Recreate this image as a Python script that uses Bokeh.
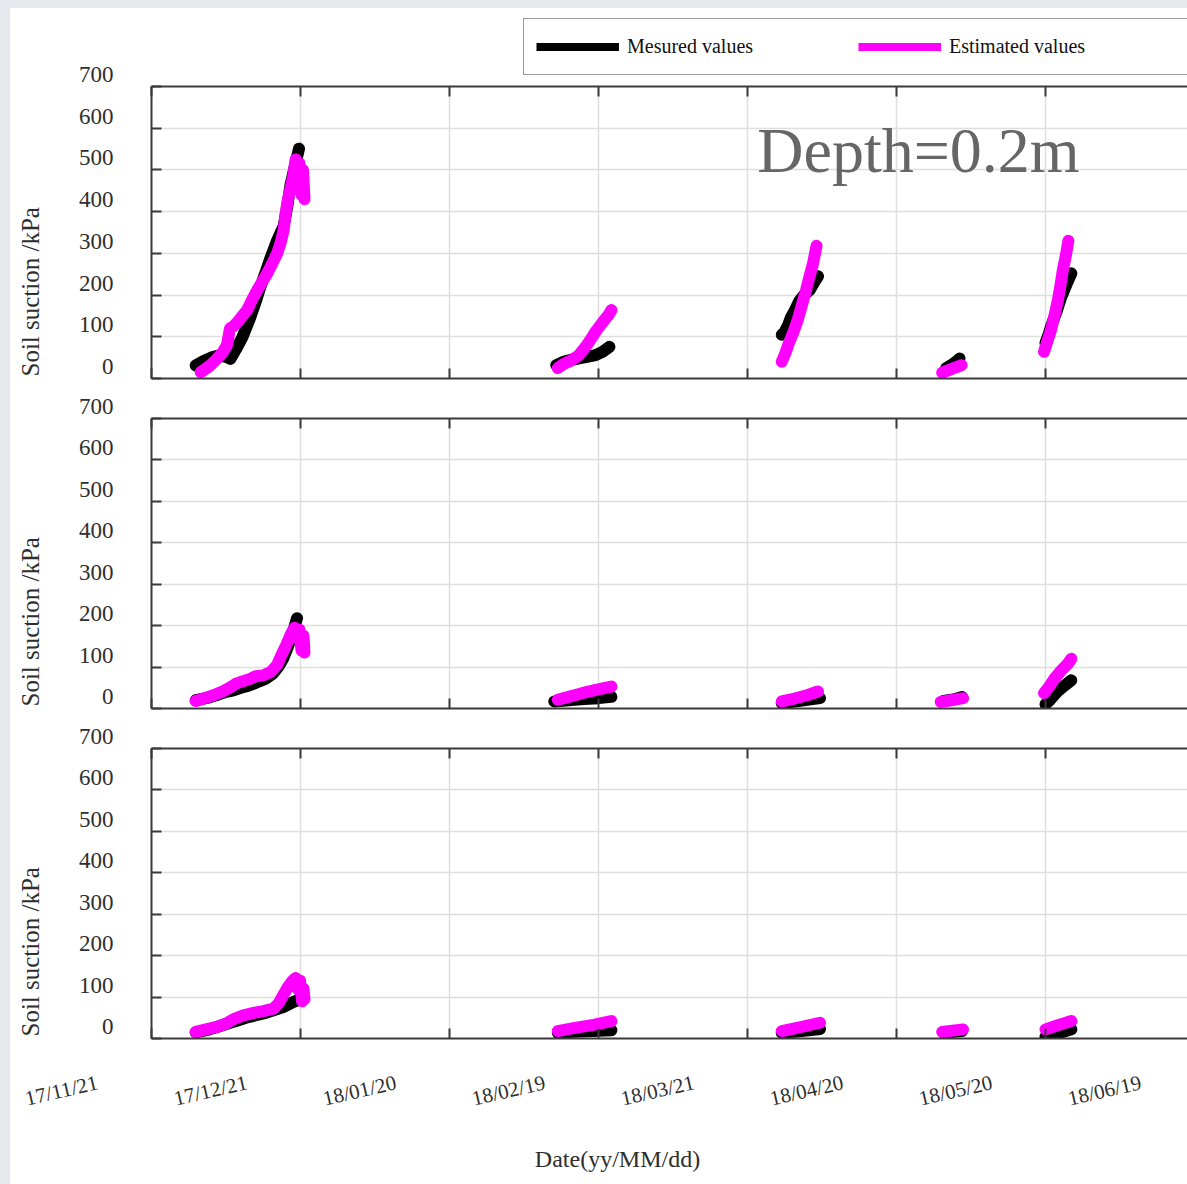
import datetime as dt
import math
from bokeh.plotting import figure
from bokeh.models import (FixedTicker, LinearAxis, Range1d, Label, Legend,
                          LegendItem, Spacer)
from bokeh.layouts import column, row
from bokeh.core.properties import value
from bokeh.embed import file_html
from bokeh.resources import INLINE

# ---------------- data ----------------
START = dt.datetime(2017, 11, 21, tzinfo=dt.timezone.utc)
x_tick_days = [0, 30, 60, 90, 120, 150, 180, 210]
x_tick_labels = ["17/11/21", "17/12/21", "18/01/20", "18/02/19",
                 "18/03/21", "18/04/20", "18/05/20", "18/06/19"]
y_tick_values = [0, 100, 200, 300, 400, 500, 600, 700]
y_tick_labels = ["0", "100", "200", "300", "400", "500", "600", "700"]

# depth 0.2 m (top panel) -- days since 17/11/21, soil suction kPa
p1_meas_days = [[8.9, 10.5, 12.0, 13.5, 15.0, 15.9, 17.0, 18.3, 19.9, 21.0, 21.9, 23.0, 24.0, 25.3, 26.6, 27.3, 28.0, 28.9, 29.7],
                [81.5, 83.0, 84.5, 86.0, 87.7, 89.4, 90.8, 92.2],
                [126.9, 127.5, 128.2, 128.7, 129.4, 130.4, 131.4, 132.5, 133.3, 134.2],
                [160.0, 161.0, 162.0, 162.7],
                [180.0, 180.6, 181.1, 182.2, 183.2, 184.2, 185.2]]
p1_meas_kpa = [[31, 42, 50, 55, 52, 47, 70, 99, 147, 185, 219, 255, 290, 331, 365, 410, 465, 510, 551],
               [32, 40, 45, 48, 52, 56, 64, 76],
               [105, 112, 128, 145, 160, 185, 200, 212, 228, 245],
               [25, 32, 40, 48],
               [85, 105, 124, 160, 196, 225, 252]]
p1_est_days = [[9.9, 11.5, 13.0, 14.3, 15.2, 15.8, 16.5, 17.3, 18.3, 19.3, 20.3, 21.3, 22.3, 23.3, 24.3, 25.3, 26.0, 26.6, 27.0, 27.4, 28.0, 28.6, 29.0, 29.4, 29.8, 30.2, 30.5, 30.8],
               [81.8, 83.0, 84.5, 86.0, 87.4, 88.5, 89.4, 90.4, 91.2, 92.0, 92.6],
               [126.9, 127.6, 128.3, 129.2, 130.1, 131.0, 131.8, 132.5, 133.2, 133.6, 133.9],
               [159.2, 160.5, 161.8, 163.1],
               [179.7, 180.4, 181.1, 181.8, 182.5, 183.0, 183.5, 184.1, 184.6]]
p1_est_kpa = [[15, 28, 45, 62, 80, 120, 125, 135, 150, 165, 190, 212, 232, 252, 275, 300, 325, 355, 395, 425, 455, 490, 525, 455, 515, 440, 500, 430],
              [25, 35, 43, 55, 76, 95, 112, 128, 140, 152, 164],
              [40, 60, 84, 110, 140, 178, 212, 245, 276, 300, 318],
              [14, 20, 26, 32],
              [64, 90, 116, 150, 188, 222, 260, 295, 330]]

# middle panel
p2_meas_days = [[8.9, 11.0, 13.0, 15.0, 16.5, 18.0, 19.5, 21.0, 23.0, 24.5, 25.5, 26.5, 27.5, 28.5, 29.3],
                [81.1, 84.0, 87.0, 90.0, 92.6],
                [126.9, 129.5, 132.0, 134.6],
                [159.5, 161.5, 163.2],
                [180.0, 181.0, 182.4, 183.8, 185.2]]
p2_meas_kpa = [[20, 25, 32, 40, 44, 50, 55, 62, 72, 85, 100, 120, 150, 185, 218],
               [17, 20, 23, 25, 28],
               [13, 17, 21, 25],
               [18, 22, 28],
               [10, 22, 41, 55, 68]]
p2_est_days = [[8.9, 10.5, 12.5, 14.5, 16.0, 17.0, 18.5, 20.0, 21.0, 22.5, 24.0, 25.3, 26.2, 27.2, 28.0, 28.8, 29.3, 29.8, 30.2, 30.6, 30.8],
               [81.8, 84.0, 86.7, 89.5, 92.6],
               [126.9, 129.5, 132.0, 134.2],
               [158.9, 161.0, 163.4],
               [179.7, 180.7, 181.8, 183.2, 184.5, 185.2]]
p2_est_kpa = [[18, 24, 32, 42, 52, 60, 66, 72, 78, 80, 88, 105, 130, 155, 178, 195, 170, 190, 140, 175, 135],
              [21, 28, 37, 45, 53],
              [17, 24, 32, 41],
              [16, 20, 25],
              [37, 52, 72, 92, 108, 120]]

# bottom panel
p3_meas_days = [[8.9, 11.0, 13.0, 15.0, 17.0, 19.0, 21.0, 23.0, 25.0, 26.5, 27.5, 28.5, 29.4],
                [81.8, 85.0, 89.0, 92.6],
                [126.9, 130.0, 134.6],
                [159.5, 163.2],
                [180.0, 182.5, 185.2]]
p3_meas_kpa = [[15, 20, 27, 35, 42, 50, 56, 62, 70, 76, 82, 88, 92],
               [14, 16, 18, 20],
               [14, 17, 23],
               [14, 18],
               [4, 12, 22]]
p3_est_days = [[8.9, 11.0, 13.2, 15.0, 16.6, 18.5, 20.6, 22.5, 24.6, 25.6, 26.6, 27.5, 28.3, 29.0, 29.5, 29.9, 30.3, 30.6, 30.8],
               [81.8, 85.0, 89.0, 92.6],
               [126.9, 130.5, 134.6],
               [159.2, 161.3, 163.4],
               [180.0, 182.5, 185.2]]
p3_est_kpa = [[16, 22, 28, 36, 47, 56, 62, 66, 72, 85, 106, 125, 138, 146, 118, 140, 90, 120, 95],
              [18, 25, 33, 42],
              [18, 27, 38],
              [16, 19, 22],
              [22, 32, 42]]

legend_labels = ["Mesured values", "Estimated values"]
depth_text = "Depth=0.2m"
y_title = "Soil suction /kPa"
x_title = "Date(yy/MM/dd)"

# ---------------- layout constants (pixels) ----------------
DAY = 86400000.0
START_MS = START.timestamp() * 1000.0
PPD = 149.0 / 30.0          # pixels per day
LEFT_STRIP, TOP_STRIP = 10, 8
FRAME_L, FRAME_R = 151, 1187
LFIG_W = 136
PANEL_W = 1177 - LFIG_W
HEADER_H = 72
FOOTER_H = 140
PANELS = [  # (fig height, border top, border bottom)
    (318, 6, 20), (330, 20, 20), (316, 20, 6)]
SERIF = "Liberation Serif"
AX_COLOR = "#3a3a3a"
TXT_COLOR = "#2e2e2e"
GRID_COLOR = "#dedede"
MAGENTA = "#ff00ff"
NAN = float("nan")

# frame top/bottom (screen) of each panel
frames = []
ytop = TOP_STRIP + HEADER_H
for h, bt, bb in PANELS:
    frames.append((ytop + bt, ytop + h - bb))
    ytop += h
LFIG_TOP, LFIG_BOT = TOP_STRIP, ytop


def to_ms(d):
    return START_MS + d * DAY


def px_to_day(sx):
    return (sx - FRAME_L) / PPD


def flatten(days_segs, val_segs):
    xs, ys = [], []
    for ds, vs in zip(days_segs, val_segs):
        if xs:
            xs.append(NAN)
            ys.append(NAN)
        xs.extend(to_ms(d) for d in ds)
        ys.extend(float(v) for v in vs)
    return xs, ys


def style_axis(ax, ticker):
    ax.ticker = ticker
    ax.axis_line_color = AX_COLOR
    ax.axis_line_width = 2
    ax.major_tick_line_color = AX_COLOR
    ax.major_tick_line_width = 2
    ax.major_tick_in = 10
    ax.major_tick_out = 0
    ax.minor_tick_line_color = None
    ax.major_label_text_font_size = "0px"
    ax.major_label_text_color = None
    ax.major_label_standoff = 0
    ax.axis_label = None


def bare(p):
    p.axis.visible = False
    p.grid.visible = False
    p.outline_line_color = None
    p.background_fill_color = "white"
    p.border_fill_color = "white"


def make_panel(h, bt, bb, md, mv, ed, ev):
    p = figure(width=PANEL_W, height=h, x_axis_type="datetime",
               x_range=Range1d(to_ms(0), to_ms(px_to_day(FRAME_R))),
               y_range=Range1d(0, 700),
               output_backend="svg", toolbar_location=None,
               min_border_left=FRAME_L - LEFT_STRIP - LFIG_W,
               min_border_right=0, min_border_top=bt, min_border_bottom=bb)
    p.outline_line_color = None
    p.background_fill_color = "white"
    p.border_fill_color = "white"

    xt = FixedTicker(ticks=[to_ms(d) for d in x_tick_days])
    yt = FixedTicker(ticks=y_tick_values)
    style_axis(p.xaxis[0], xt)
    style_axis(p.yaxis[0], yt)
    top_ax = LinearAxis()
    style_axis(top_ax, xt)
    p.add_layout(top_ax, "above")

    p.xgrid.ticker = xt
    p.ygrid.ticker = yt
    for g in (p.xgrid, p.ygrid):
        g.grid_line_color = GRID_COLOR
        g.grid_line_width = 1.5

    mx, my = flatten(md, mv)
    ex, ey = flatten(ed, ev)
    p.line(mx, my, line_color="black", line_width=12,
           line_cap="round", line_join="round")
    p.line(ex, ey, line_color=MAGENTA, line_width=12,
           line_cap="round", line_join="round")
    return p


data = [(p1_meas_days, p1_meas_kpa, p1_est_days, p1_est_kpa),
        (p2_meas_days, p2_meas_kpa, p2_est_days, p2_est_kpa),
        (p3_meas_days, p3_meas_kpa, p3_est_days, p3_est_kpa)]
panels = [make_panel(*PANELS[i], *data[i]) for i in range(3)]

# depth annotation in the top panel
panels[0].add_layout(Label(x=to_ms(px_to_day(918)), y=700, y_offset=-64,
                           text=depth_text, text_align="center",
                           text_baseline="middle", text_font=SERIF,
                           text_font_size="64px", text_color="#666666"))

# ---------------- left strip: y tick labels and y titles ----------------
lfig = figure(width=LFIG_W, height=LFIG_BOT - LFIG_TOP,
              x_range=Range1d(to_ms(px_to_day(LEFT_STRIP)),
                              to_ms(px_to_day(LEFT_STRIP + LFIG_W))),
              y_range=Range1d(0, 1), output_backend="svg",
              toolbar_location=None, min_border=0)
bare(lfig)
extra = {}
for k, (ft, fb) in enumerate(frames):
    s = (fb - ft) / 700.0                     # px per kPa
    extra[f"p{k}"] = Range1d(-(LFIG_BOT - fb) / s, 700 + (ft - LFIG_TOP) / s)
lfig.extra_y_ranges = extra
for k, (ft, fb) in enumerate(frames):
    s = (fb - ft) / 700.0
    lfig.text(x=[to_ms(px_to_day(FRAME_L - 38))] * len(y_tick_values),
              y=[v + 12 / s for v in y_tick_values], text=y_tick_labels,
              y_range_name=f"p{k}", text_align="right",
              text_baseline="middle", text_font=value(SERIF),
              text_font_size="23px", text_color=TXT_COLOR)
    lfig.text(x=[to_ms(px_to_day(30))], y=[2 / s], text=[y_title],
              y_range_name=f"p{k}", angle=math.pi / 2, text_align="left",
              text_baseline="middle", text_font=value(SERIF),
              text_font_size="25px", text_color=TXT_COLOR)

# ---------------- header: legend ----------------
header = figure(width=PANEL_W, height=HEADER_H, x_range=Range1d(0, 1),
                y_range=Range1d(0, 1), output_backend="svg",
                toolbar_location=None, min_border=0)
bare(header)
# legend proxies (no visible data)
lm = header.line([NAN], [NAN], line_color="black", line_width=8,
                 line_cap="butt")
le = header.line([NAN], [NAN], line_color=MAGENTA, line_width=8,
                 line_cap="butt")
legend = Legend(items=[LegendItem(label=legend_labels[0], renderers=[lm]),
                       LegendItem(label=legend_labels[1], renderers=[le])],
                orientation="horizontal",
                location=(523 - FRAME_L, 5),
                padding=12, spacing=0, margin=0,
                glyph_width=83, glyph_height=31,
                label_width=231, label_height=31, label_standoff=8,
                label_text_font=SERIF, label_text_font_size="20px",
                label_text_color="#111111",
                border_line_color="#333333", border_line_width=1.5,
                background_fill_color="white", background_fill_alpha=1.0)
header.add_layout(legend)

# ---------------- footer: x tick labels and x title ----------------
p3_top, p3_bot = frames[2]
s3 = (p3_bot - p3_top) / 700.0
footer = figure(width=1177, height=FOOTER_H,
                x_range=Range1d(to_ms(px_to_day(LEFT_STRIP)),
                                to_ms(px_to_day(FRAME_R))),
                y_range=Range1d(-(LFIG_BOT + FOOTER_H - p3_bot) / s3,
                                -(LFIG_BOT - p3_bot) / s3),
                output_backend="svg", toolbar_location=None, min_border=0)
bare(footer)
footer.text(x=[to_ms(d - 90 / PPD) for d in x_tick_days],
            y=[-52 / s3] * len(x_tick_days), text=x_tick_labels,
            angle=0.227, text_align="center", text_baseline="middle",
            text_font=value(SERIF), text_font_size="21px",
            text_color=TXT_COLOR)
footer.text(x=[to_ms(px_to_day(617))], y=[-120 / s3], text=[x_title],
            text_align="center", text_baseline="middle",
            text_font=value(SERIF), text_font_size="24px",
            text_color=TXT_COLOR)

strip = "#e6e9ed"
layout = row(Spacer(width=LEFT_STRIP, height=1184,
                    styles={"background-color": strip}),
             column(Spacer(width=1177, height=TOP_STRIP,
                           styles={"background-color": strip}),
                    row(lfig, column(header, *panels)),
                    footer))

open("out.html", "w").write(file_html(layout, INLINE))
